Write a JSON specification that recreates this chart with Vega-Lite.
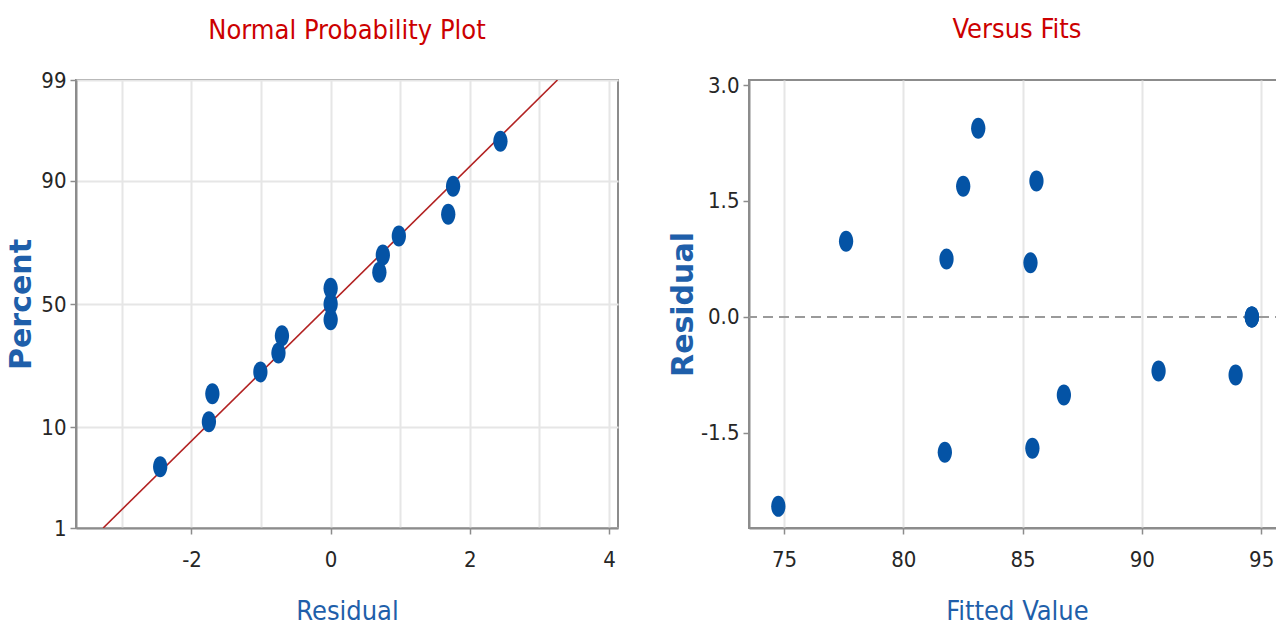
{
  "$schema": "https://vega.github.io/schema/vega-lite/v6.json",
  "background": "white",
  "padding": {"left": 5, "top": 15, "right": 0, "bottom": 0},
  "datasets": {
    "residuals": [
      {"fitted": 74.76, "residual": -2.45, "percent": 4.55, "nscore": -1.691},
      {"fitted": 81.74, "residual": -1.75, "percent": 11.04, "nscore": -1.224},
      {"fitted": 85.41, "residual": -1.70, "percent": 17.53, "nscore": -0.933},
      {"fitted": 86.73, "residual": -1.01, "percent": 24.03, "nscore": -0.705},
      {"fitted": 93.93, "residual": -0.75, "percent": 30.52, "nscore": -0.510},
      {"fitted": 90.70, "residual": -0.70, "percent": 37.01, "nscore": -0.331},
      {"fitted": 94.61, "residual": 0.00, "percent": 43.51, "nscore": -0.163},
      {"fitted": 94.61, "residual": 0.00, "percent": 50.00, "nscore": 0.000},
      {"fitted": 94.61, "residual": 0.00, "percent": 56.49, "nscore": 0.163},
      {"fitted": 85.33, "residual": 0.70, "percent": 62.99, "nscore": 0.331},
      {"fitted": 81.81, "residual": 0.75, "percent": 69.48, "nscore": 0.510},
      {"fitted": 77.60, "residual": 0.98, "percent": 75.97, "nscore": 0.705},
      {"fitted": 82.51, "residual": 1.69, "percent": 82.47, "nscore": 0.933},
      {"fitted": 85.58, "residual": 1.76, "percent": 88.96, "nscore": 1.224},
      {"fitted": 83.14, "residual": 2.44, "percent": 95.45, "nscore": 1.691}
    ],
    "fit": [
      {"residual": -3.27, "nscore": -2.3263},
      {"residual": 3.26, "nscore": 2.3263}
    ]
  },
  "config": {
    "view": {"stroke": "#8c8c8c", "strokeWidth": 2},
    "font": "DejaVu Sans Condensed, Roboto Condensed, Roboto, sans-serif",
    "title": {"font": "DejaVu Sans Condensed, Roboto Condensed, Roboto, sans-serif", "fontSize": 27, "fontWeight": "normal", "color": "#cc0000", "anchor": "middle"},
    "axis": {
      "domainColor": "#8c8c8c", "domainWidth": 2,
      "gridColor": "#e6e6e6", "gridWidth": 2,
      "tickColor": "#8c8c8c", "tickWidth": 1.5, "tickSize": 6,
      "labelFont": "DejaVu Sans Condensed, Roboto Condensed, Roboto, sans-serif", "labelFontSize": 22, "labelColor": "#262626",
      "titleColor": "#1f5faa"
    },
    "axisX": {"labelPadding": 15, "titleFont": "DejaVu Sans Condensed, Roboto Condensed, Roboto, sans-serif", "titleFontSize": 27, "titleFontWeight": "normal", "titlePadding": 28},
    "axisY": {"labelPadding": 4, "titleFont": "DejaVu Sans", "titleFontWeight": "bold", "titleFontSize": 30, "titlePadding": 4},
    "concat": {"spacing": 48}
  },
  "hconcat": [
    {
      "title": {"text": "Normal Probability Plot", "offset": 24},
      "width": 542,
      "height": 448,
      "encoding": {
        "x": {
          "field": "residual", "type": "quantitative", "title": "Residual",
          "scale": {"domain": [-3.66, 4.13], "nice": false, "zero": false},
          "axis": {
            "values": [-3, -2, -1, 0, 1, 2, 3, 4],
            "labelExpr": "datum.value % 2 === 0 ? '' + datum.value : ''",
            "tickOpacity": {"condition": {"test": "datum.value % 2 !== 0", "value": 0}, "value": 1}
          }
        },
        "y": {
          "field": "nscore", "type": "quantitative", "title": "Percent",
          "scale": {"domain": [-2.3263, 2.3263], "nice": false, "zero": false},
          "axis": {
            "values": [-2.3263, -1.2816, 0, 1.2816, 2.3263],
            "labelExpr": "datum.value < -2 ? '1' : datum.value < -1 ? '10' : datum.value < 1 ? '50' : datum.value < 2 ? '90' : '99'"
          }
        }
      },
      "layer": [
        {
          "data": {"name": "fit"},
          "mark": {"type": "line", "color": "#b22222", "strokeWidth": 1.6, "clip": true}
        },
        {
          "data": {"name": "residuals"},
          "mark": {"type": "point", "shape": "M-0.68,0A0.68,1 0 1,0 0.68,0A0.68,1 0 1,0 -0.68,0Z", "filled": true, "size": 441, "color": "#0453a5", "opacity": 1}
        }
      ]
    },
    {
      "title": {"text": "Versus Fits", "offset": 30},
      "width": 536,
      "height": 448,
      "layer": [
        {
          "data": {"values": [{}]},
          "mark": {"type": "rule", "color": "#9a9a9a", "strokeWidth": 2, "strokeDash": [10, 6]},
          "encoding": {"y": {"datum": 0, "type": "quantitative"}}
        },
        {
          "data": {"name": "residuals"},
          "mark": {"type": "point", "shape": "M-0.68,0A0.68,1 0 1,0 0.68,0A0.68,1 0 1,0 -0.68,0Z", "filled": true, "size": 441, "color": "#0453a5", "opacity": 1},
          "encoding": {
            "x": {
              "field": "fitted", "type": "quantitative", "title": "Fitted Value",
              "scale": {"domain": [73.53, 96.0], "nice": false, "zero": false},
              "axis": {"values": [75, 80, 85, 90, 95]}
            },
            "y": {
              "field": "residual", "type": "quantitative", "title": "Residual",
              "scale": {"domain": [-2.73, 3.065], "nice": false, "zero": false},
              "axis": {
                "values": [-1.5, 0, 1.5, 3],
                "titlePadding": 2,
                "labelExpr": "datum.value < 0 ? '-' + format(-datum.value, '.1f') : format(datum.value, '.1f')"
              }
            }
          }
        }
      ]
    }
  ]
}
